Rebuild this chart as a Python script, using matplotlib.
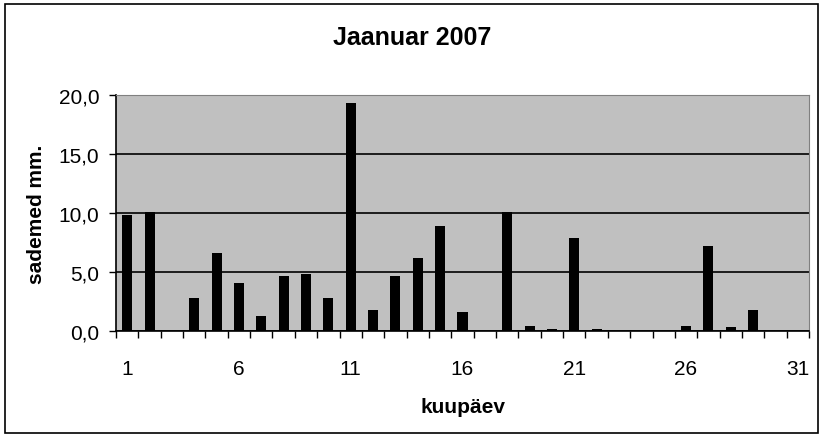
import matplotlib

matplotlib.use("Agg")
import matplotlib.pyplot as plt
from matplotlib.patches import Rectangle

plt.rcParams["font.family"] = ["Liberation Sans", "DejaVu Sans"]

days = list(range(1, 32))
precip = [9.8, 10.1, 0.0, 2.8, 6.6, 4.1, 1.3, 4.7, 4.8, 2.8,
          19.3, 1.8, 4.7, 6.2, 8.9, 1.6, 0.0, 10.1, 0.45, 0.15,
          7.9, 0.2, 0.0, 0.0, 0.0, 0.45, 7.2, 0.35, 1.8, 0.0, 0.0]
yticks = [0, 5, 10, 15, 20]
ytick_labels = ["0,0", "5,0", "10,0", "15,0", "20,0"]
xtick_days = [1, 6, 11, 16, 21, 26, 31]

fig = plt.figure(figsize=(8.25, 4.39), dpi=100)
fig.patches.append(Rectangle((5 / 825, 5 / 439), 813 / 825, 429 / 439,
                             transform=fig.transFigure, fill=False,
                             edgecolor="black", linewidth=1.2))

ax = fig.add_axes([116 / 825, 107 / 439, 693 / 825, 236 / 439])
ax.set_facecolor("#c0c0c0")
ax.bar(days, precip, width=0.45, color="black", zorder=3)

ax.set_xlim(0.5, 31.5)
ax.set_ylim(0, 20)
ax.set_yticks(yticks)
ax.set_yticklabels(ytick_labels)
ax.yaxis.grid(True, color="black", linewidth=1.2, zorder=1)

# category boundaries get tick marks, labels sit at the centres
ax.set_xticks([d + 0.5 for d in range(0, 32)])
ax.set_xticklabels([])
ax.set_xticks(xtick_days, minor=True)
ax.set_xticklabels([str(d) for d in xtick_days], minor=True)
ax.tick_params(axis="x", which="major", length=5, width=1, direction="out")
ax.tick_params(axis="x", which="minor", length=0, pad=20, labelsize=15)
ax.tick_params(axis="y", length=5, width=1, labelsize=15, pad=7)

for side in ["top", "right"]:
    ax.spines[side].set_color("#808080")
for side in ["left", "bottom"]:
    ax.spines[side].set_color("black")
    ax.spines[side].set_linewidth(1.2)

# title is centred on the whole chart, not the plot area
fig.text(0.5, 1 - 38 / 439, "Jaanuar 2007", fontsize=18, fontweight="bold",
         ha="center", va="center")
ax.set_xlabel("kuupäev", fontsize=15, fontweight="bold", labelpad=14)
ax.set_ylabel("sademed mm.", fontsize=15, fontweight="bold", labelpad=9)

fig.savefig("out.png", dpi=100)
plt.close(fig)
